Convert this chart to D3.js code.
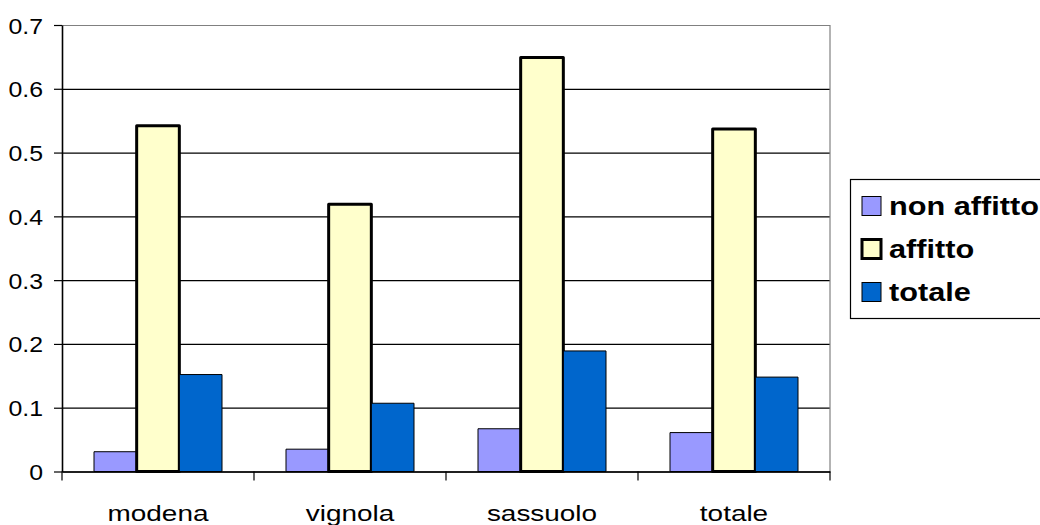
<!DOCTYPE html>
<html>
<head>
<meta charset="utf-8">
<script src="https://cdn.jsdelivr.net/npm/d3@7"></script>
<style>
  html, body { margin: 0; padding: 0; background: #fff; }
  svg { display: block; font-family: "Liberation Sans", Arial, sans-serif; }
</style>
</head>
<body>
<svg id="chart" width="1040" height="525"></svg>
<script>
const categories = ["modena", "vignola", "sassuolo", "totale"];
const seriesNames = ["non affitto", "affitto", "totale"];
const nonAffitto = [0.031, 0.035, 0.067, 0.061];
const affitto = [0.542, 0.419, 0.649, 0.537];
const totale = [0.152, 0.107, 0.189, 0.148];
const yTicks = [0, 0.1, 0.2, 0.3, 0.4, 0.5, 0.6, 0.7];

const seriesValues = [nonAffitto, affitto, totale];
const colors = ["#9999FF", "#FFFFCC", "#0066CC"];
const strokeW = [1, 3, 1];

const svg = d3.select("#chart");
const plotLeft = 62, plotRight = 830, plotTop = 25, plotBottom = 471.5;

const x = d3.scaleBand().domain(categories).range([plotLeft, plotRight]).padding(0);
const xs = d3.scaleBand().domain(seriesNames).range([0, x.bandwidth()]).paddingInner(0).paddingOuter(0.75);
const y = d3.scaleLinear().domain([0, 0.7]).range([plotBottom, plotTop]);

// gridlines
const grid = svg.append("g").attr("transform", `translate(${plotLeft},0)`)
  .call(d3.axisLeft(y).tickValues(yTicks).tickSize(-(plotRight - plotLeft)).tickFormat(""));
grid.select(".domain").remove();
grid.selectAll(".tick line").attr("stroke", d => d === 0.7 ? "#808080" : "#000").attr("stroke-width", 1.2);

// right border
svg.append("line").attr("x1", plotRight).attr("x2", plotRight).attr("y1", y(0.7)).attr("y2", y(0))
  .attr("stroke", "#808080").attr("stroke-width", 1.2);

// bars
const table = categories.map((c, i) => seriesNames.map((s, j) => ({ c, s, j, v: seriesValues[j][i] })));
svg.append("g").selectAll("g").data(table).join("g")
  .attr("transform", d => `translate(${x(d[0].c)},0)`)
  .selectAll("rect").data(d => d).join("rect")
  .attr("x", d => xs(d.s))
  .attr("width", xs.bandwidth())
  .attr("y", d => y(d.v))
  .attr("height", d => y(0) - y(d.v))
  .attr("fill", d => colors[d.j])
  .attr("stroke", "#000")
  .attr("stroke-width", d => strokeW[d.j])
  .attr("stroke-linejoin", "round");

// y axis
const yAxis = svg.append("g").attr("transform", `translate(${plotLeft},0)`)
  .call(d3.axisLeft(y).tickValues(yTicks).tickSize(8).tickSizeOuter(0).tickFormat(d3.format("")));
yAxis.select(".domain").attr("stroke", "#000").attr("stroke-width", 1.6);
yAxis.selectAll(".tick line").attr("stroke", "#000").attr("stroke-width", 1.2);
yAxis.selectAll(".tick text")
  .attr("x", null).attr("dy", null)
  .attr("transform", "translate(-19,8) scale(1.13,1)")
  .attr("text-anchor", "end")
  .attr("font-size", 22)
  .attr("font-family", "'Liberation Sans', Arial, sans-serif")
  .attr("fill", "#000");

// x axis (labels)
const xAxis = svg.append("g").attr("transform", `translate(0,${plotBottom})`)
  .call(d3.axisBottom(x).tickSize(0).tickSizeOuter(0));
xAxis.select(".domain").attr("stroke", "#000").attr("stroke-width", 1.6);
xAxis.selectAll(".tick text")
  .attr("y", null).attr("dy", null)
  .attr("transform", "translate(0,49.5) scale(1.27,1)")
  .attr("font-size", 22)
  .attr("font-family", "'Liberation Sans', Arial, sans-serif")
  .attr("fill", "#000");

// x axis boundary ticks
const bounds = categories.map(c => x(c)).concat([x.range()[1]]);
svg.append("g").selectAll("line").data(bounds).join("line")
  .attr("x1", d => d).attr("x2", d => d)
  .attr("y1", plotBottom).attr("y2", plotBottom + 9)
  .attr("stroke", "#000").attr("stroke-width", 1.2);

// legend
const lg = svg.append("g");
lg.append("rect").attr("x", 850.5).attr("y", 179.5).attr("width", 300).attr("height", 139)
  .attr("fill", "#fff").attr("stroke", "#000").attr("stroke-width", 1.2);
const rowY = [206, 249, 292];
const items = lg.selectAll("g.item").data(seriesNames).join("g").attr("class", "item");
items.append("rect")
  .attr("x", 862).attr("y", (d, i) => rowY[i] - 9.5)
  .attr("width", 19).attr("height", 19)
  .attr("fill", (d, i) => colors[i])
  .attr("stroke", "#000")
  .attr("stroke-width", (d, i) => strokeW[i]);
items.append("text")
  .attr("transform", (d, i) => `translate(889,${rowY[i] + 9.3}) scale(1.18,1)`)
  .attr("font-size", 26)
  .attr("font-weight", "bold")
  .attr("fill", "#000")
  .text(d => d);
</script>
</body>
</html>
